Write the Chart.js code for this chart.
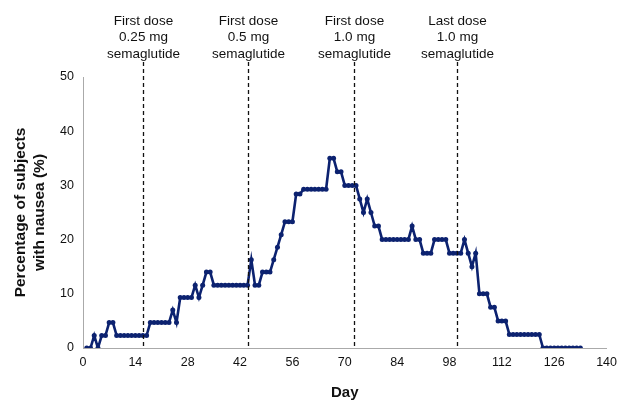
<!DOCTYPE html>
<html>
<head>
<meta charset="utf-8">
<script src="https://cdn.jsdelivr.net/npm/chart.js@4"></script>
<style>
  html, body { margin: 0; padding: 0; background: #fff; }
  #wrap { width: 619px; height: 402px; }
</style>
</head>
<body>
<div id="wrap"><canvas id="nauseaChart" width="619" height="402"></canvas></div>
<script>
// Study day for each point
const days = [];
for (let d = 1; d <= 133; d++) days.push(d);

// Percentage of subjects with nausea, one value per day
const nausea = [
  0, 0, 2.3, 0, 2.3, 2.3, 4.7, 4.7, 2.3, 2.3,          // 1-10
  2.3, 2.3, 2.3, 2.3, 2.3, 2.3, 2.3, 4.7, 4.7, 4.7,    // 11-20
  4.7, 4.7, 4.7, 7.0, 4.7, 9.3, 9.3, 9.3, 9.3, 11.6,   // 21-30
  9.3, 11.6, 14.0, 14.0, 11.6, 11.6, 11.6, 11.6, 11.6, 11.6, // 31-40
  11.6, 11.6, 11.6, 11.6, 16.3, 11.6, 11.6, 14.0, 14.0, 14.0, // 41-50
  16.3, 18.6, 20.9, 23.3, 23.3, 23.3, 28.4, 28.4, 29.3, 29.3, // 51-60
  29.3, 29.3, 29.3, 29.3, 29.3, 35.0, 35.0, 32.5, 32.5, 30.0, // 61-70
  30.0, 30.0, 30.0, 27.5, 25.0, 27.5, 25.0, 22.5, 22.5, 20.0, // 71-80
  20.0, 20.0, 20.0, 20.0, 20.0, 20.0, 20.0, 22.5, 20.0, 20.0, // 81-90
  17.5, 17.5, 17.5, 20.0, 20.0, 20.0, 20.0, 17.5, 17.5, 17.5, // 91-100
  17.5, 20.0, 17.5, 15.0, 17.5, 10.0, 10.0, 10.0, 7.5, 7.5,   // 101-110
  5.0, 5.0, 5.0, 2.5, 2.5, 2.5, 2.5, 2.5, 2.5, 2.5,           // 111-120
  2.5, 2.5, 0, 0, 0, 0, 0, 0, 0, 0,                           // 121-130
  0, 0, 0                                                      // 131-133
];

// Dose markers
const doseDays = [16, 44, 72.5, 100];
const doseLabels = [
  ['First dose', '0.25 mg', 'semaglutide'],
  ['First dose', '0.5 mg', 'semaglutide'],
  ['First dose', '1.0 mg', 'semaglutide'],
  ['Last dose', '1.0 mg', 'semaglutide']
];

// Axis ranges
const xMax = 140, xStep = 14;
const yMax = 50, yStep = 10;

const points = days.map((d, i) => ({ x: d, y: nausea[i] }));

// Dashed vertical dose lines with their labels
const doseMarkers = {
  id: 'doseMarkers',
  afterDatasetsDraw(chart) {
    const { ctx, scales } = chart;
    const bottom = scales.y.getPixelForValue(0);
    ctx.save();
    doseDays.forEach((d, i) => {
      const x = Math.round(scales.x.getPixelForValue(d)) + 0.5;
      ctx.strokeStyle = '#111';
      ctx.lineWidth = 1.3;
      ctx.setLineDash([4, 3]);
      ctx.beginPath();
      ctx.moveTo(x, 62);
      ctx.lineTo(x, bottom);
      ctx.stroke();

      ctx.setLineDash([]);
      ctx.fillStyle = '#111';
      ctx.font = '13.5px "Liberation Sans", Arial, sans-serif';
      ctx.textAlign = 'center';
      ctx.textBaseline = 'middle';
      doseLabels[i].forEach((line, j) => {
        ctx.fillText(line, x, 21 + j * 16.5);
      });
    });
    ctx.restore();
  }
};

Chart.defaults.font.family = '"Liberation Sans", Arial, sans-serif';
Chart.defaults.color = '#111';

new Chart(document.getElementById('nauseaChart'), {
  type: 'line',
  data: {
    datasets: [{
      data: points,
      borderColor: '#0c2270',
      backgroundColor: '#0c2270',
      borderWidth: 2.6,
      pointRadius: 2.5,
      pointBorderWidth: 0,
      tension: 0
    }]
  },
  options: {
    responsive: false,
    animation: false,
    layout: { padding: { top: 77, right: 11, left: 0, bottom: 0 } },
    plugins: { legend: { display: false }, tooltip: { enabled: false } },
    scales: {
      x: {
        type: 'linear',
        min: 0,
        max: xMax,
        ticks: { stepSize: xStep, font: { size: 12.5 }, padding: 2 },
        grid: { display: false, drawTicks: true, tickLength: 5, tickColor: '#aaa' },
        border: { color: '#aaa', width: 1 },
        title: { display: true, text: 'Day', font: { size: 15, weight: 'bold' }, padding: { top: 4, bottom: 0 } },
        afterFit(axis) { axis.height = 54; }
      },
      y: {
        min: 0,
        max: yMax,
        ticks: { stepSize: yStep, font: { size: 12.5 }, padding: 4 },
        grid: { display: false, drawTicks: true, tickLength: 5, tickColor: '#aaa' },
        border: { color: '#aaa', width: 1 },
        title: {
          display: true,
          text: ['Percentage of subjects', 'with nausea (%)'],
          font: { size: 15.5, weight: 'bold', lineHeight: 1.18 },
          padding: { top: 12, bottom: 2 }
        },
        afterFit(axis) { axis.width = 83; }
      }
    }
  },
  plugins: [doseMarkers]
});
</script>
</body>
</html>
